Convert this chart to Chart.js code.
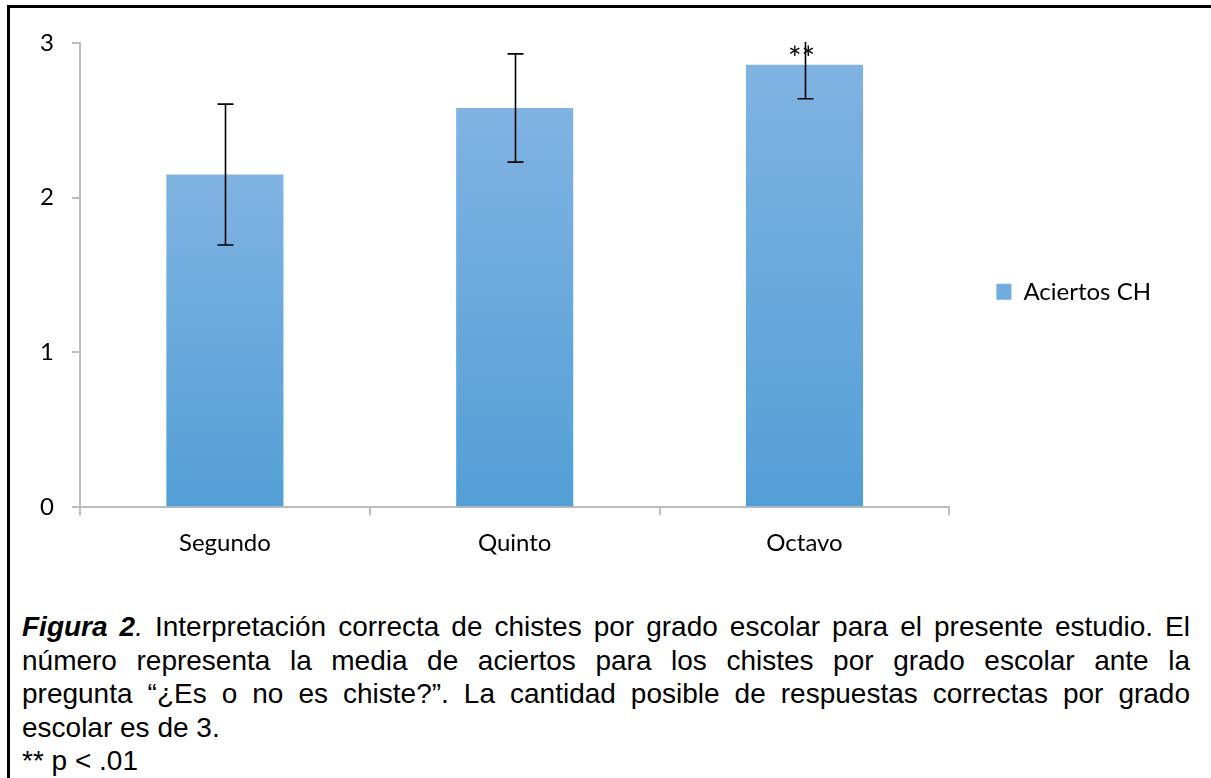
<!DOCTYPE html>
<html lang="es">
<head>
<meta charset="utf-8">
<title>Aciertos CH por grado escolar</title>
<script src="https://cdn.jsdelivr.net/npm/chart.js@4.4.1/dist/chart.umd.min.js"></script>
<style>
  html, body { margin: 0; padding: 0; background: #fff; }
  body { width: 1211px; height: 778px; position: relative; overflow: hidden; }
  #frame { position: absolute; left: 7px; top: 5px; right: -5px; bottom: -5px;
           border-top: 3px solid #000; border-left: 3px solid #000; }
  #wrap { position: absolute; left: 0; top: 0; width: 1211px; height: 600px; }
  #caption { position: absolute; left: 22px; top: 610px; width: 1168px;
             font-family: "Liberation Sans", Arial, sans-serif; font-size: 28px; color: #000; }
  #caption div { height: 33.5px; line-height: 33.5px; white-space: nowrap; }
  #caption .j { text-align: justify; text-align-last: justify; }
</style>
</head>
<body>
<div id="frame"></div>
<div id="wrap"><canvas id="chart"></canvas></div>
<div id="caption">
  <div class="j"><b><i>Figura 2</i></b><i>.</i> Interpretación correcta de chistes por grado escolar para el presente estudio. El</div>
  <div class="j">número representa la media de aciertos para los chistes por grado escolar ante la</div>
  <div class="j">pregunta “¿Es o no es chiste?”. La cantidad posible de respuestas correctas por grado</div>
  <div>escolar es de 3.</div>
  <div>** p &lt; .01</div>
</div>
<script>
// Mean correct answers per school grade, with error-bar half widths
const categories = ['Segundo', 'Quinto', 'Octavo'];
const means = [2.15, 2.58, 2.86];
const errors = [0.455, 0.35, 0.22];
const significance = ['', '', '**'];
const yTicks = [0, 1, 2, 3];
const seriesLabel = 'Aciertos CH';

const FONT = 'Lato, "Open Sans", sans-serif';
const AXIS_GREY = '#bdbdbd';

// Vertical gradient for each bar, light at the top, deeper blue at the base
function barFill(ctx) {
  const chart = ctx.chart;
  const y = chart.scales && chart.scales.y;
  if (!chart.chartArea || !y || ctx.type !== 'data') return '#6aa9dd';
  const top = y.getPixelForValue(ctx.raw);
  const base = y.getPixelForValue(0);
  const g = chart.ctx.createLinearGradient(0, top, 0, base);
  g.addColorStop(0, '#80b3e2');
  g.addColorStop(1, '#529fd6');
  return g;
}

// Error bars (clipped to the plot area) and significance marks
const errorBars = {
  id: 'errorBars',
  afterDatasetsDraw(chart) {
    const { ctx, chartArea, scales: { y } } = chart;
    const meta = chart.getDatasetMeta(0);
    ctx.save();
    ctx.beginPath();
    ctx.rect(chartArea.left, chartArea.top - 1, chartArea.width, chartArea.height + 2);
    ctx.clip();
    ctx.strokeStyle = '#000';
    ctx.lineWidth = 1.6;
    meta.data.forEach((bar, i) => {
      const x = Math.round(bar.x) + 0.5;
      const hi = y.getPixelForValue(means[i] + errors[i]);
      const lo = y.getPixelForValue(means[i] - errors[i]);
      ctx.beginPath();
      ctx.moveTo(x, hi); ctx.lineTo(x, lo);
      ctx.moveTo(x - 8, hi); ctx.lineTo(x + 8, hi);
      ctx.moveTo(x - 8, lo); ctx.lineTo(x + 8, lo);
      ctx.stroke();
    });
    ctx.restore();

    ctx.save();
    ctx.font = '32px ' + FONT;
    ctx.fillStyle = '#000';
    ctx.textAlign = 'center';
    ctx.textBaseline = 'alphabetic';
    meta.data.forEach((bar, i) => {
      if (significance[i]) ctx.fillText(significance[i], bar.x - 3, bar.y + 5);
    });
    ctx.restore();
  }
};

new Chart(document.getElementById('chart'), {
  type: 'bar',
  data: {
    labels: categories,
    datasets: [{
      label: seriesLabel,
      data: means,
      backgroundColor: barFill,
      borderWidth: 0,
      barPercentage: 0.404,
      categoryPercentage: 1
    }]
  },
  options: {
    responsive: true,
    maintainAspectRatio: false,
    animation: false,
    layout: { padding: { top: 43, left: 0, right: 50, bottom: 28 } },
    plugins: {
      tooltip: { enabled: false },
      legend: {
        position: 'right',
        fullSize: false,
        // blank title row keeps the single entry a little below the plot's middle
        title: { display: true, text: '', padding: { top: 0, bottom: 4.7 }, font: { family: FONT, size: 24 } },
        labels: {
          boxWidth: 15,
          boxHeight: 16,
          padding: 47,
          color: '#000',
          font: { family: FONT, size: 24 }
        }
      }
    },
    scales: {
      x: {
        grid: { display: true, drawOnChartArea: false, drawTicks: true, tickLength: 8,
                offset: true, color: AXIS_GREY, lineWidth: 2 },
        border: { display: true, color: AXIS_GREY, width: 2 },
        ticks: { color: '#000', padding: 14, font: { family: FONT, size: 24 } }
      },
      y: {
        min: 0,
        max: 3,
        afterFit(scale) { scale.width = 80; },
        afterBuildTicks(scale) { scale.ticks = yTicks.map(v => ({ value: v })); },
        grid: { display: true, drawOnChartArea: false, drawTicks: true, tickLength: 8,
                color: AXIS_GREY, lineWidth: 2 },
        border: { display: true, color: AXIS_GREY, width: 2 },
        ticks: { color: '#000', padding: 18, font: { family: FONT, size: 24 } }
      }
    }
  },
  plugins: [errorBars]
});
</script>
</body>
</html>
